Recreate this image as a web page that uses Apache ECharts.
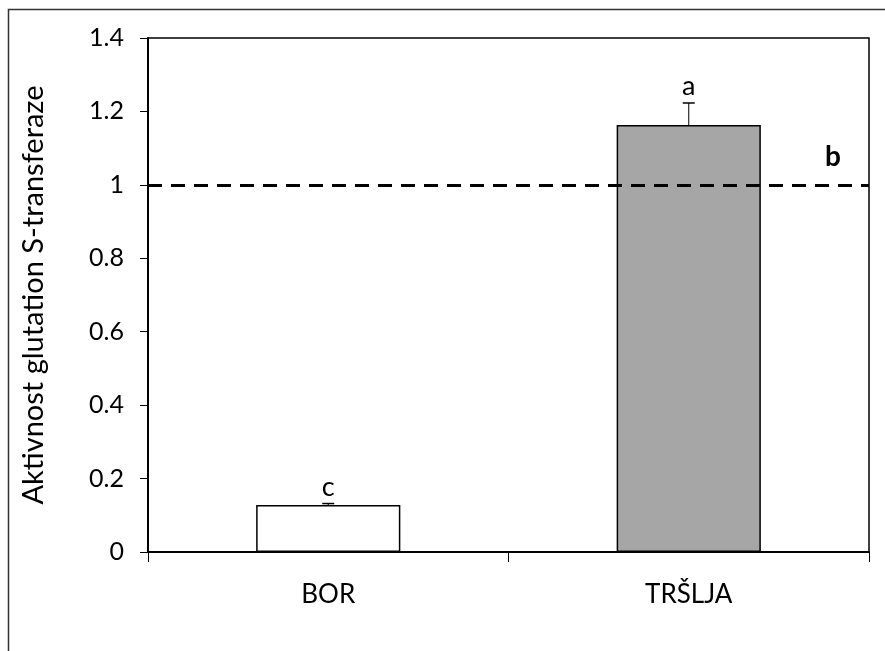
<!DOCTYPE html>
<html>
<head>
<meta charset="utf-8">
<script src="https://cdn.jsdelivr.net/npm/echarts@6/dist/echarts.min.js"></script>
<style>html,body{margin:0;padding:0;background:#fff}#c{width:885px;height:651px}</style>
</head>
<body>
<div id="c"></div>
<script>
const categories = ['BOR', 'TRŠLJA'];
const means = [0.128, 1.163];
const errors = [0.004, 0.06];
const letters = ['c', 'a'];
const controlLevel = 1.0;
const controlLetter = 'b';
const yTicks = [0, 0.2, 0.4, 0.6, 0.8, 1.0, 1.2, 1.4];
const barColors = ['#ffffff', '#a6a6a6'];

const FONT = 'Lato';
const chart = echarts.init(document.getElementById('c'), null, {renderer: 'canvas'});

chart.setOption({
  animation: false,
  backgroundColor: '#fff',
  graphic: [{
    type: 'rect', silent: true, z: -10,
    shape: {x: 8.5, y: 9.5, width: 900, height: 700},
    style: {fill: 'none', stroke: '#333', lineWidth: 1.5}
  }],
  grid: {left: 148, top: 38, right: 16, bottom: 99, show: true, borderColor: '#000', borderWidth: 1.5, backgroundColor: 'transparent'},
  xAxis: {
    type: 'category', data: categories,
    axisLine: {lineStyle: {color: '#000', width: 2}},
    axisTick: {show: true, length: 10, lineStyle: {color: '#000', width: 1}},
    axisLabel: {color: '#000', fontSize: 26, fontFamily: FONT, margin: 30}
  },
  yAxis: {
    type: 'value', min: yTicks[0], max: yTicks[yTicks.length - 1], interval: 0.2,
    name: 'Aktivnost glutation S-transferaze', nameLocation: 'middle', nameGap: 100,
    nameTextStyle: {color: '#000', fontSize: 29, fontFamily: FONT},
    splitLine: {show: false},
    axisLine: {show: true, lineStyle: {color: '#000', width: 2}},
    axisTick: {show: true, length: 8, lineStyle: {color: '#000', width: 1}},
    axisLabel: {color: '#000', fontSize: 25, fontFamily: FONT, margin: 24,
      formatter: v => String(Math.round(v * 10) / 10)}
  },
  series: [{
    type: 'bar', barWidth: '40%',
    data: means.map((v, i) => ({value: v, itemStyle: {color: barColors[i]}})),
    itemStyle: {borderColor: '#000', borderWidth: 1.5},
    markLine: {
      silent: true, symbol: 'none',
      lineStyle: {color: '#000', width: 3, type: [14, 9]},
      label: {show: true, position: 'insideEndTop', formatter: controlLetter,
        color: '#000', fontSize: 28, fontWeight: 'bold', fontFamily: FONT, distance: [28, 14]},
      data: [{yAxis: controlLevel}]
    },
    z: 2
  }, {
    type: 'custom', z: 3,
    data: means.map((v, i) => [i, v, errors[i]]),
    renderItem: function (params, api) {
      const i = api.value(0), m = api.value(1), e = api.value(2);
      const base = api.coord([i, m]);
      const top = api.coord([i, m + e]);
      const letter = letters[params.dataIndex];
      return {
        type: 'group',
        children: [
          {type: 'line', shape: {x1: base[0], y1: base[1], x2: top[0], y2: top[1]}, style: {stroke: '#000', lineWidth: 1}},
          {type: 'line', shape: {x1: top[0] - 6, y1: top[1], x2: top[0] + 6, y2: top[1]}, style: {stroke: '#000', lineWidth: 1.5}},
          {type: 'text', x: top[0], y: top[1] - 3, style: {text: letter, fill: '#000', font: '27px Lato', align: 'center', verticalAlign: 'bottom'}}
        ]
      };
    }
  }]
});
</script>
</body>
</html>
